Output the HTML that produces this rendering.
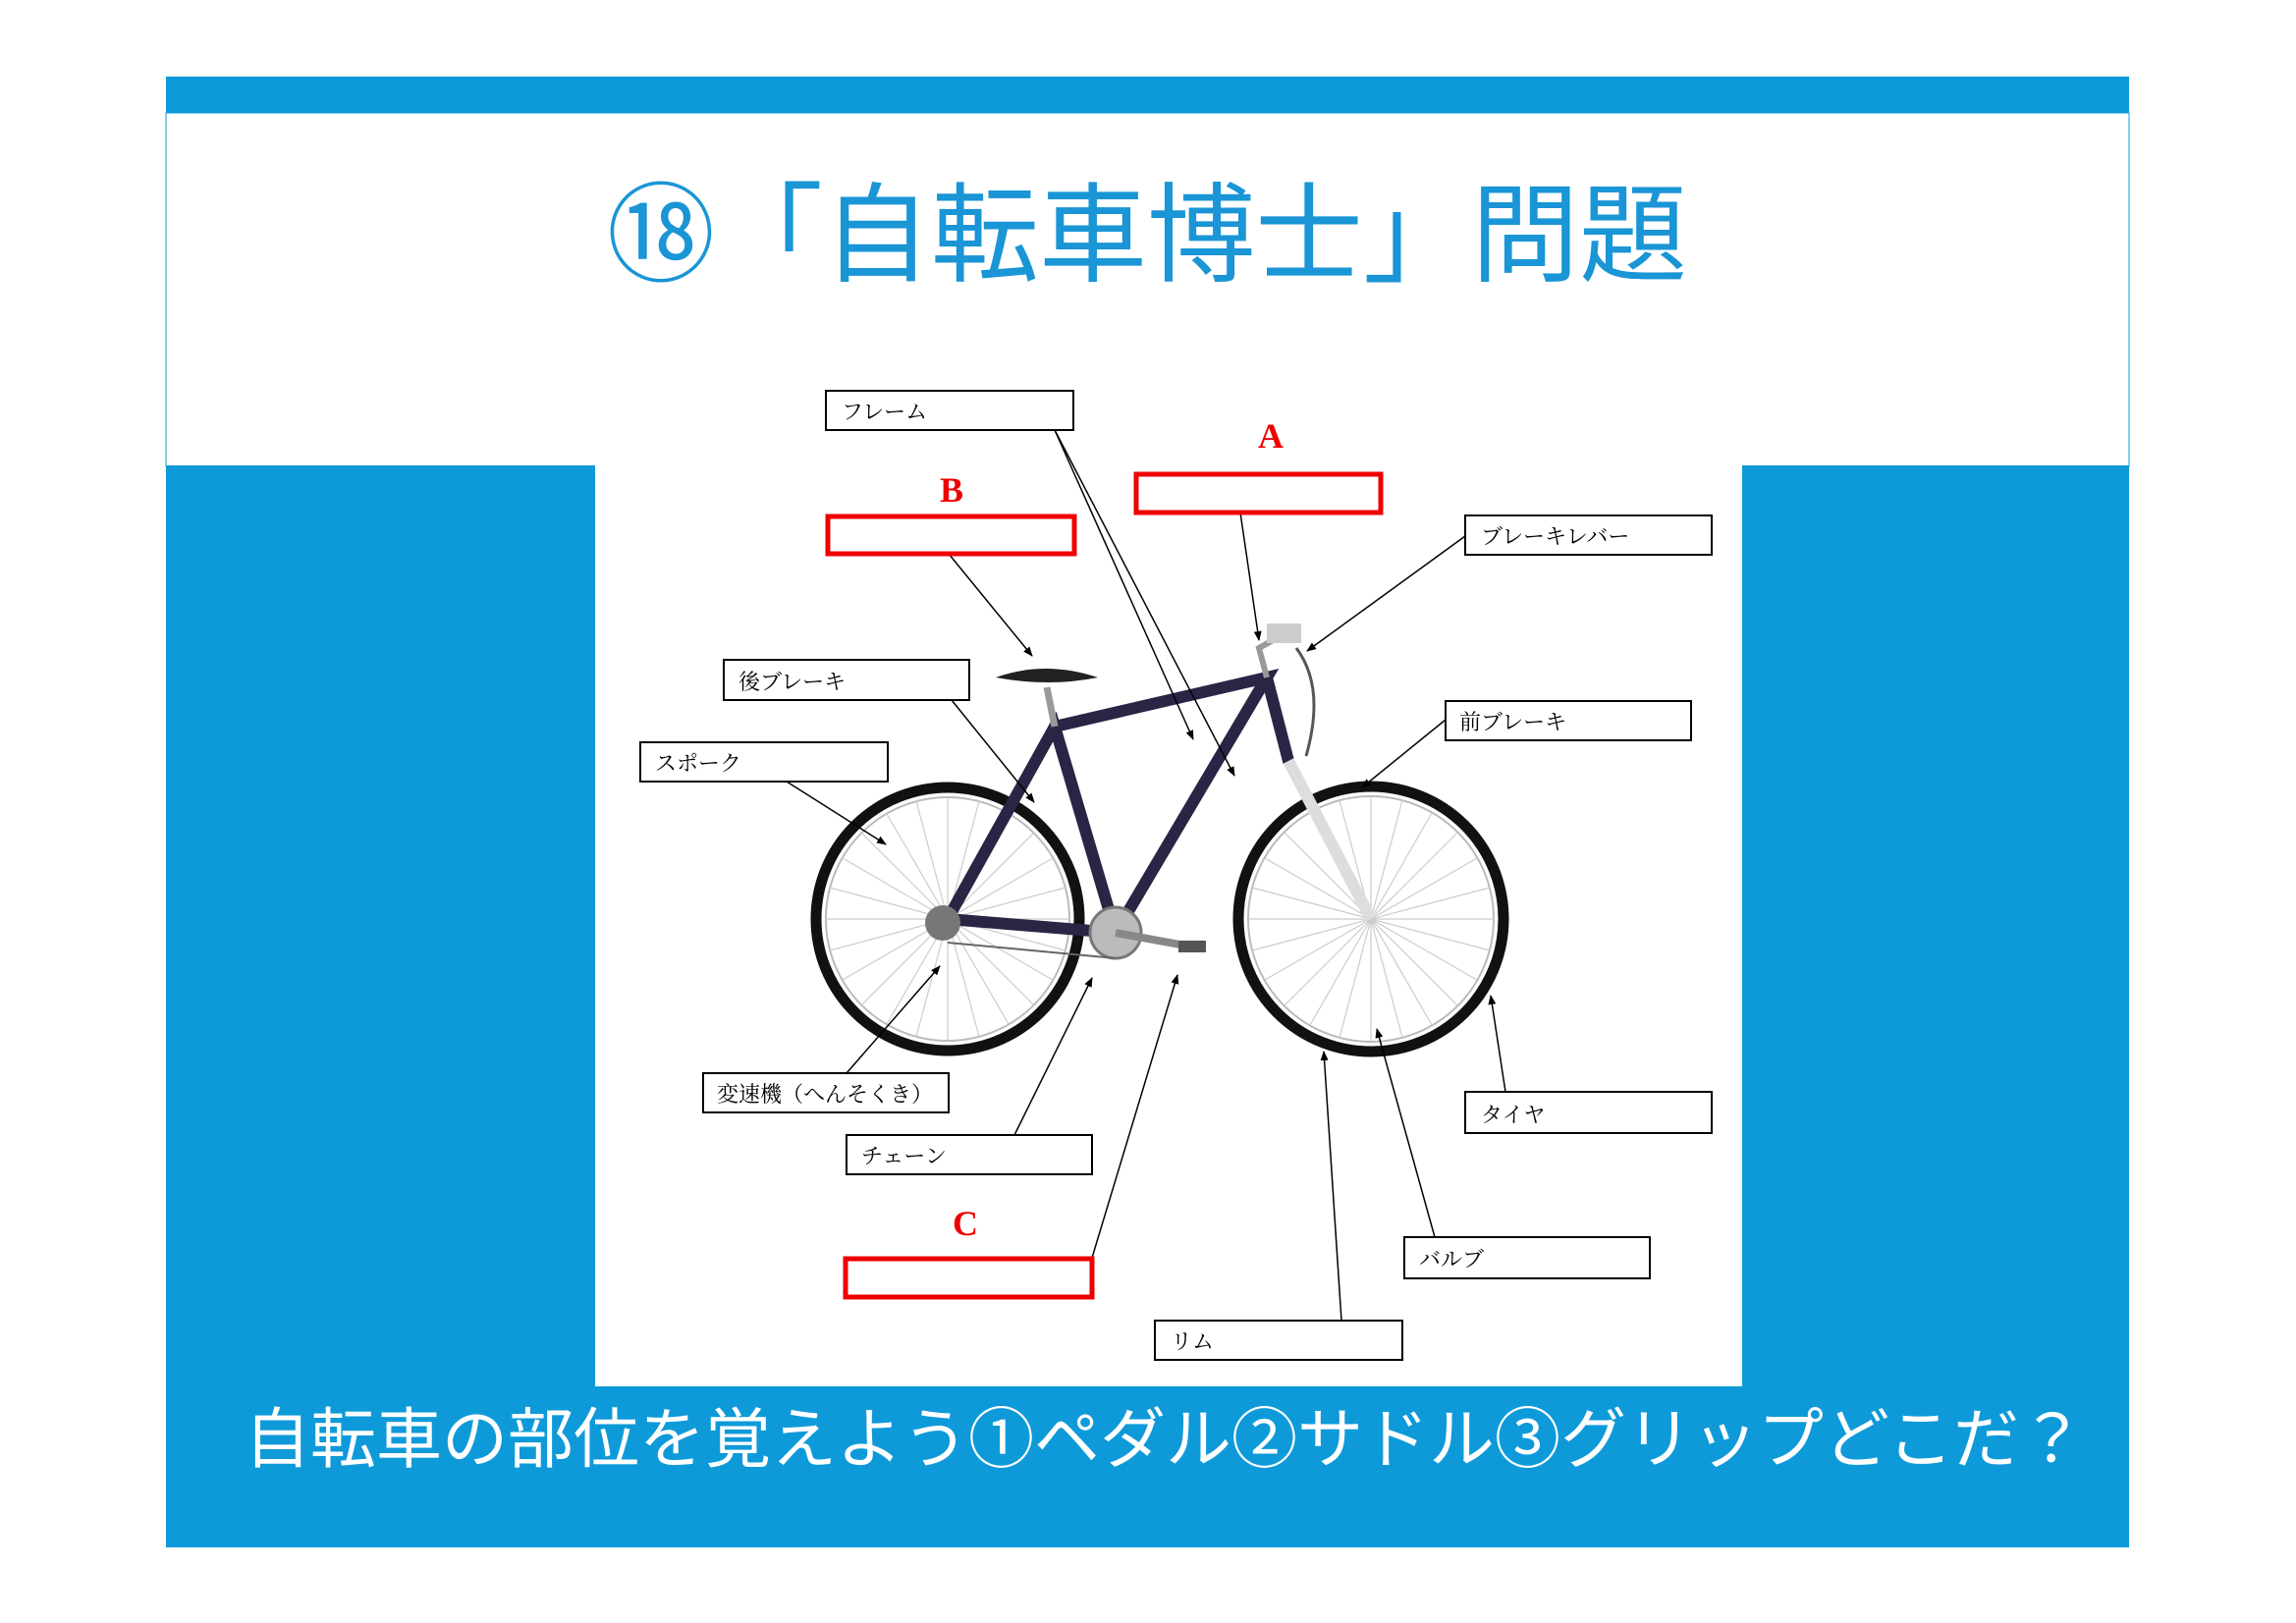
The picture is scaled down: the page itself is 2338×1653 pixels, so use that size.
<!DOCTYPE html>
<html><head><meta charset="utf-8"><style>
html,body{margin:0;padding:0;background:#fff;}
svg{display:block}
</style></head><body>
<svg width="2338" height="1653" viewBox="0 0 2338 1653" xmlns="http://www.w3.org/2000/svg">
<defs>
<marker id="ar" markerWidth="10" markerHeight="10" refX="9" refY="5" orient="auto" markerUnits="userSpaceOnUse"><path d="M0,1 L10,5 L0,9 z" fill="#000"/></marker>
</defs>
<rect x="0" y="0" width="2338" height="1653" fill="#fff"/>
<rect x="169" y="78" width="1999" height="37" fill="#0e9ad9"/>
<rect x="169" y="115" width="1999" height="360" fill="#fff" stroke="#0e9ad9" stroke-width="1"/>
<rect x="169" y="474" width="1999" height="1102" fill="#0e9ad9"/>
<rect x="606" y="474" width="1168" height="938" fill="#fff"/>
<text x="1168" y="278" text-anchor="middle" font-family="'Liberation Sans','Noto Sans CJK JP',sans-serif" font-size="110" fill="#1a95d6">⑱「自転車博士」問題</text>
<text x="1186" y="1489" text-anchor="middle" font-family="'Liberation Sans','Noto Sans CJK JP',sans-serif" font-size="67" fill="#fff">自転車の部位を覚えよう①ペダル②サドル③グリップどこだ？</text>

<!-- bicycle -->
<g fill="none">
<circle cx="965" cy="936" r="134" stroke="#111" stroke-width="11"/>
<circle cx="965" cy="936" r="124" stroke="#bbb" stroke-width="2"/>
<circle cx="1396" cy="936" r="135" stroke="#111" stroke-width="11"/>
<circle cx="1396" cy="936" r="125" stroke="#bbb" stroke-width="2"/>
<g stroke="#ccc" stroke-width="1.2">
<path d="M965,936 l0,-124 M965,936 l62,-107 M965,936 l107,-62 M965,936 l124,0 M965,936 l107,62 M965,936 l62,107 M965,936 l0,124 M965,936 l-62,107 M965,936 l-107,62 M965,936 l-124,0 M965,936 l-107,-62 M965,936 l-62,-107 M965,936 l32,-120 M965,936 l88,-88 M965,936 l120,-32 M965,936 l120,32 M965,936 l88,88 M965,936 l32,120 M965,936 l-32,120 M965,936 l-88,88 M965,936 l-120,32 M965,936 l-120,-32 M965,936 l-88,-88 M965,936 l-32,-120"/>
<path d="M1396,936 l0,-125 M1396,936 l62,-108 M1396,936 l108,-62 M1396,936 l125,0 M1396,936 l108,62 M1396,936 l62,108 M1396,936 l0,125 M1396,936 l-62,108 M1396,936 l-108,62 M1396,936 l-125,0 M1396,936 l-108,-62 M1396,936 l-62,-108 M1396,936 l32,-121 M1396,936 l88,-88 M1396,936 l121,-32 M1396,936 l121,32 M1396,936 l88,88 M1396,936 l32,121 M1396,936 l-32,121 M1396,936 l-88,88 M1396,936 l-121,32 M1396,936 l-121,-32 M1396,936 l-88,-88 M1396,936 l-32,-121"/>
</g>
<g stroke="#2a2545" stroke-width="12" stroke-linecap="round">
<path d="M965,936 L1136,950 L1074,740 L965,936"/>
<path d="M1074,740 L1290,690 L1136,950"/>
<path d="M1290,690 L1312,775"/>
</g>
<path d="M1312,775 L1396,936" stroke="#ddd" stroke-width="12"/>
<path d="M1074,740 L1066,700" stroke="#999" stroke-width="7"/>
<path d="M1290,690 L1282,660 L1300,650" stroke="#999" stroke-width="6"/>
<path d="M1320,660 q30,40 10,110" stroke="#555" stroke-width="3"/>
<rect x="1290" y="635" width="35" height="20" fill="#ccc"/>
<path d="M1014,690 q50,-18 104,0 q-50,10 -104,0z" fill="#222"/>
<circle cx="1136" cy="950" r="26" fill="#bbb" stroke="#777" stroke-width="3"/>
<path d="M1136,950 L1218,965" stroke="#888" stroke-width="8"/>
<rect x="1200" y="958" width="28" height="12" fill="#555"/>
<circle cx="960" cy="940" r="18" fill="#777"/>
<path d="M965,960 L1136,976" stroke="#666" stroke-width="2"/>
</g>

<!-- connectors -->
<g stroke="#000" stroke-width="1.5" marker-end="url(#ar)">
<line x1="1074" y1="438" x2="1215" y2="753"/>
<line x1="1074" y1="438" x2="1257" y2="790"/>
<line x1="1263" y1="522" x2="1282" y2="652"/>
<line x1="966" y1="564" x2="1051" y2="668"/>
<line x1="1492" y1="546" x2="1331" y2="663"/>
<line x1="969" y1="713" x2="1053" y2="817"/>
<line x1="801" y1="796" x2="902" y2="860"/>
<line x1="1472" y1="733" x2="1387" y2="802"/>
<line x1="862" y1="1093" x2="957" y2="984"/>
<line x1="1033" y1="1156" x2="1112" y2="996"/>
<line x1="1112" y1="1281" x2="1199" y2="993"/>
<line x1="1533" y1="1112" x2="1518" y2="1014"/>
<line x1="1461" y1="1260" x2="1402" y2="1048"/>
<line x1="1366" y1="1345" x2="1348" y2="1071"/>
</g>

<!-- label boxes -->
<g fill="#fff" stroke="#000" stroke-width="2">
<rect x="841" y="398" width="252" height="40"/>
<rect x="1492" y="525" width="251" height="40"/>
<rect x="737" y="672" width="250" height="41"/>
<rect x="1472" y="714" width="250" height="40"/>
<rect x="652" y="756" width="252" height="40"/>
<rect x="716" y="1093" width="250" height="40"/>
<rect x="1492" y="1112" width="251" height="42"/>
<rect x="862" y="1156" width="250" height="40"/>
<rect x="1430" y="1260" width="250" height="42"/>
<rect x="1176" y="1345" width="252" height="40"/>
</g>
<g fill="none" stroke="#e00" stroke-width="5">
<rect x="1157" y="483" width="249" height="39"/>
<rect x="843" y="526" width="251" height="38"/>
<rect x="861" y="1282" width="251" height="39"/>
</g>
<g font-family="'Liberation Serif','Noto Serif CJK SC',serif" font-size="22" fill="#000">
<text x="857" y="427">フレーム</text>
<text x="1508" y="554">ブレーキレバー</text>
<text x="752" y="702">後ブレーキ</text>
<text x="1486" y="743">前ブレーキ</text>
<text x="667" y="785">スポーク</text>
<text x="730" y="1122">変速機（へんそくき）</text>
<text x="1508" y="1143">タイヤ</text>
<text x="877" y="1185">チェーン</text>
<text x="1445" y="1290">バルブ</text>
<text x="1192" y="1374">リム</text>
</g>
<g font-family="'Liberation Serif',serif" font-weight="bold" font-size="36" fill="#e00" text-anchor="middle">
<text x="1294" y="456">A</text>
<text x="969" y="511">B</text>
<text x="983" y="1258">C</text>
</g>
</svg>
</body></html>
